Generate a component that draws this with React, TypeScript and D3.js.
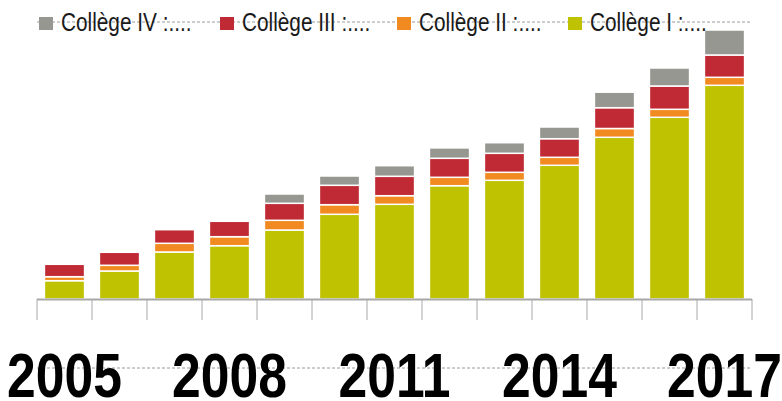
import * as React from 'react';
import * as d3 from 'd3';

// years on the x axis
const YEARS = ['2005', '2006', '2007', '2008', '2009', '2010', '2011', '2012', '2013', '2014', '2015', '2016', '2017'];
const TICK_YEARS = ['2005', '2008', '2011', '2014', '2017'];

// stacked series, bottom to top
const COLLEGE_I = [18.3, 28, 47, 53.3, 69, 84.7, 94.7, 113.3, 118.7, 133.7, 161.7, 181.7, 213.7];
const COLLEGE_II = [4, 5.7, 8.7, 9, 9.7, 9.6, 8.6, 8.4, 8, 8, 8.8, 8, 8];
const COLLEGE_III = [12.4, 13, 13.6, 15.4, 17, 19.4, 19.4, 19, 19, 18.6, 20.8, 23.3, 22.3];
const COLLEGE_IV = [0, 0, 0, 0, 9.3, 9.3, 10.6, 10.4, 10.6, 11.7, 15.5, 18, 25];

const SERIES = [
  { key: 'i', label: 'Collège I :....', color: '#bfc200', values: COLLEGE_I },
  { key: 'ii', label: 'Collège II :....', color: '#f18a21', values: COLLEGE_II },
  { key: 'iii', label: 'Collège III :....', color: '#c02a35', values: COLLEGE_III },
  { key: 'iv', label: 'Collège IV :....', color: '#979791', values: COLLEGE_IV },
];

// legend order as shown (left to right)
const LEGEND_ORDER = ['iv', 'iii', 'ii', 'i'];
const LEGEND_X = [39, 220, 397, 568];

const W = 782;
const H = 401;
const left = 37;
const right = 752;
const baseline = 299;
// no narrow font installed: squeeze Liberation Sans horizontally
const NARROW = 0.82;
const FONT = "'Liberation Sans', Arial, sans-serif";

export default function App() {
  const x = d3.scaleBand<string>().domain(YEARS).range([left, right]).paddingInner(0.27).paddingOuter(0.135);
  const y = d3.scaleLinear().domain([0, 270]).range([baseline, baseline - 270]);

  const rows = YEARS.map((yr, i) => {
    const r: Record<string, number | string> = { year: yr };
    SERIES.forEach((s) => (r[s.key] = s.values[i]));
    return r;
  });
  const stack = d3.stack<Record<string, number | string>>().keys(SERIES.map((s) => s.key));
  const layers = stack(rows as any);

  const step = x.step();
  const tickXs = d3.range(YEARS.length + 1).map((i) => left + i * step);

  return (
    <svg width={W} height={H} style={{ position: 'absolute', left: 0, top: 0 }}>
      <rect width={W} height={H} fill="#fff" />
      {/* dashed guide lines */}
      <line x1={left} x2={right} y1={22} y2={22} stroke="#9a9a9a" strokeWidth={1} strokeDasharray="3,2" />
      <line x1={left} x2={right} y1={368} y2={368} stroke="#9a9a9a" strokeWidth={1} strokeDasharray="3,2" />

      {layers.map((layer, li) => (
        <g key={SERIES[li].key} fill={SERIES[li].color}>
          {layer.map((d, i) =>
            d[1] - d[0] > 0 ? (
              <rect
                key={i}
                x={x(YEARS[i])}
                width={x.bandwidth()}
                y={y(d[1])}
                height={y(d[0]) - y(d[1])}
                stroke="#fff"
                strokeWidth={1.5}
              />
            ) : null
          )}
        </g>
      ))}

      {/* axis */}
      {tickXs.map((tx, i) => (
        <line key={i} x1={tx} x2={tx} y1={baseline} y2={320} stroke="#a8a8a8" strokeWidth={1} />
      ))}
      <line x1={left} x2={right} y1={baseline + 0.5} y2={baseline + 0.5} stroke="#a8a8a8" strokeWidth={2} />

      {TICK_YEARS.map((yr) => (
        <text
          key={yr}
          transform={`translate(${(x(yr) ?? 0) + x.bandwidth() / 2},397) scale(${NARROW},1)`}
          textAnchor="middle"
          fontFamily={FONT}
          fontWeight="bold"
          fontSize={63}
          fill="#000"
        >
          {yr}
        </text>
      ))}

      {/* legend */}
      {LEGEND_ORDER.map((k, i) => {
        const s = SERIES.find((d) => d.key === k)!;
        return (
          <g key={k} transform={`translate(${LEGEND_X[i]},0)`}>
            <rect x={0} y={17} width={14} height={13} fill={s.color} />
            <text
              transform={`translate(22,31) scale(0.8,1)`}
              fontFamily={FONT}
              fontSize={26}
              fill="#1a1a1a"
            >
              {s.label}
            </text>
          </g>
        );
      })}
    </svg>
  );
}
